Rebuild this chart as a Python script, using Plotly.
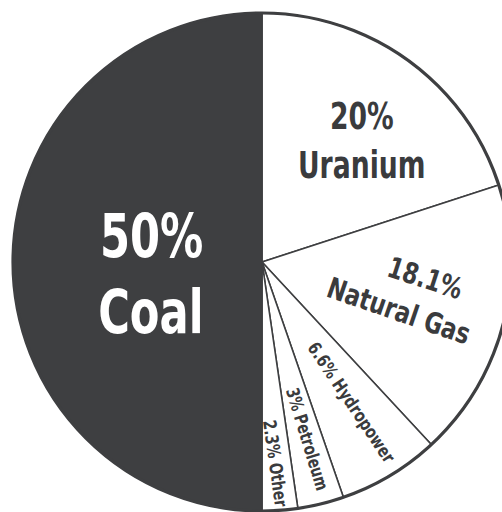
import json
import plotly.graph_objects as go

# ---- data ----
sources = ["Uranium", "Natural Gas", "Hydropower", "Petroleum", "Other", "Coal"]
shares = [20, 18.1, 6.6, 3, 2.3, 50]
pct_labels = ["20%", "18.1%", "6.6%", "3%", "2.3%", "50%"]

DARK = "#3e3f41"
TEXT = "#3a3b3d"
FONT = "DejaVu Sans Condensed, DejaVu Sans, sans-serif"

W = H = 524
M = 13
PLOT = W - 2 * M  # square plot area; pie centre at page (262, 262)

colors = [DARK if s == "Coal" else "white" for s in sources]

fig = go.Figure(go.Pie(
    labels=sources,
    values=shares,
    sort=False,
    direction="clockwise",
    rotation=0,
    marker=dict(colors=colors, line=dict(color=DARK, width=1.6)),
    textinfo="none",
    hoverinfo="label+percent",
    showlegend=False,
    domain=dict(x=[0, 1], y=[0, 1]),
))

# outer rim
fig.add_shape(type="circle", xref="paper", yref="paper", x0=0, y0=0, x1=1, y1=1,
              line=dict(color=DARK, width=3.2), fillcolor="rgba(0,0,0,0)")


def px2paper(px, py):
    return (px - M) / PLOT, 1 - (py - M) / PLOT


idx = {s: i for i, s in enumerate(sources)}
# label layout: (text, page-x, page-y, angle, size, colour, horizontal condense factor)
labels_layout = [
    (pct_labels[idx["Coal"]], 151, 236, 0, 60, "white", 0.80),
    ("Coal", 151, 312, 0, 60, "white", 0.80),
    (pct_labels[idx["Uranium"]], 362, 117, 0, 37, TEXT, 0.80),
    ("Uranium", 361, 165, 0, 37, TEXT, 0.80),
    (pct_labels[idx["Natural Gas"]], 425, 278, 18, 29, TEXT, 0.85),
    ("Natural Gas", 399, 311, 19, 29, TEXT, 0.86),
    (pct_labels[idx["Hydropower"]] + " Hydropower", 352, 402, 56, 18, TEXT, 0.87),
    (pct_labels[idx["Petroleum"]] + " Petroleum", 308, 439, 73, 18, TEXT, 0.83),
    (pct_labels[idx["Other"]] + " Other", 276, 463, 82, 18, TEXT, 0.85),
]

factors = []
for text, px, py, ang, size, col, fac in labels_layout:
    x, y = px2paper(px, py)
    fig.add_annotation(x=x, y=y, xref="paper", yref="paper", text=text,
                       showarrow=False, textangle=ang, xanchor="center", yanchor="middle",
                       font=dict(family=FONT, size=size, color=col, weight="bold"))
    factors.append(fac)

fig.update_layout(
    width=W, height=H,
    margin=dict(l=M, r=M, t=M, b=M),
    paper_bgcolor="white", plot_bgcolor="white",
)

post = """
document.body.style.margin='0';
document.body.style.overflow='hidden';
var f = %s;
var gd = document.getElementById('{plot_id}');
var anns = gd.querySelectorAll('g.annotation');
anns.forEach(function(a){
  var i = parseInt(a.getAttribute('data-index'));
  var t = a.querySelector('text.annotation-text');
  if (!t || isNaN(i)) return;
  var L = t.getComputedTextLength();
  t.setAttribute('textLength', (L * f[i]).toFixed(2));
  t.setAttribute('lengthAdjust', 'spacingAndGlyphs');
});
""" % json.dumps(factors)

fig.write_html("out.html", post_script=post, config={"displayModeBar": False})
